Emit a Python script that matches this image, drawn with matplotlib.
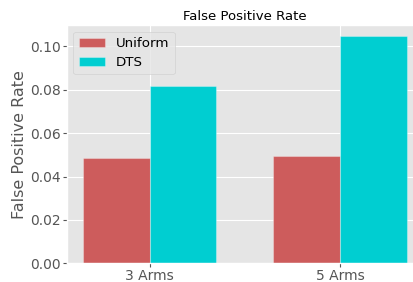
import matplotlib
matplotlib.use("Agg")
import matplotlib.pyplot as plt
import numpy as np

plt.style.use("ggplot")

categories = ["3 Arms", "5 Arms"]
uniform = [0.0486, 0.0493]
dts = [0.0815, 0.1045]
series_names = ["Uniform", "DTS"]

fig = plt.figure(figsize=(4.14, 2.82), dpi=100)
ax = fig.add_axes([0.161, 0.066, 0.861, 0.845])

x = np.arange(len(categories))
w = 0.35
ax.bar(x - w / 2, uniform, w, color="#CD5C5C", label=series_names[0],
       edgecolor=(1, 1, 1, 0.3), linewidth=0.8)
ax.bar(x + w / 2, dts, w, color="#00CED1", label=series_names[1],
       edgecolor=(1, 1, 1, 0.3), linewidth=0.8)

ax.set_xticks(x)
ax.set_xticklabels(categories)
ax.tick_params(axis="both", labelsize=10, colors="#555555", length=3, pad=1.5)
ax.tick_params(axis="x", pad=0.8)
ax.set_ylabel("False Positive Rate", fontsize=11.5, color="#555555")
ax.yaxis.set_label_coords(-0.11, 0.5)
ax.set_title("False Positive Rate", fontsize=9.5, pad=3.5)
ax.set_yticks([0, 0.02, 0.04, 0.06, 0.08, 0.10])
ax.set_yticklabels(["0.00", "0.02", "0.04", "0.06", "0.08", "0.10"])
ax.legend(loc="upper left", fontsize=9.6, labelspacing=0.45)

fig.savefig("out.png", dpi=100)
